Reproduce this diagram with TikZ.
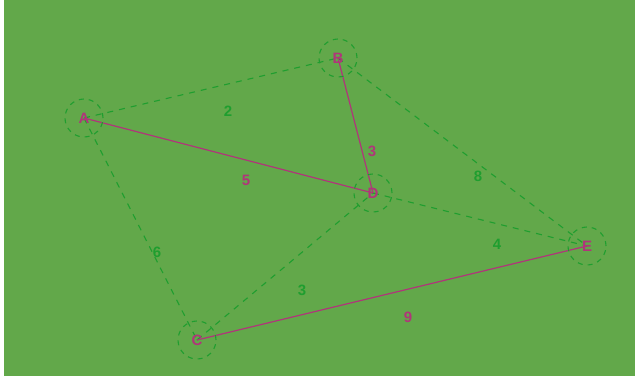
\documentclass[tikz,border=0pt]{standalone}
\usepackage{fontspec}
\setmainfont{Liberation Sans}
\definecolor{bg}{HTML}{62A84A}
\definecolor{dgreen}{HTML}{1F9E2F}
\definecolor{mag}{HTML}{B0357A}
\begin{document}
\begin{tikzpicture}[x=1pt,y=-1pt,
  vert/.style={circle,draw=dgreen,line width=1.1pt,dash pattern=on 5pt off 5pt,minimum size=38pt,inner sep=0pt,text=mag,font=\bfseries\fontsize{15}{15}\selectfont},
  dedge/.style={draw=dgreen,dash pattern=on 6pt off 6pt,line width=1.1pt},
  sedge/.style={draw=mag,line width=1.2pt},
  glab/.style={text=dgreen,font=\bfseries\fontsize{15}{15}\selectfont},
  mlab/.style={text=mag,font=\bfseries\fontsize{15}{15}\selectfont}]
\useasboundingbox (0,0) rectangle (635,378);
\fill[white] (0,0) rectangle (635,378);
\fill[bg] (4,0) rectangle (635,376);
\coordinate (a) at (84,118);
\coordinate (b) at (338,58);
\coordinate (c) at (197,340);
\coordinate (d) at (373,193);
\coordinate (e) at (587,246);
\draw[dedge] (a) -- (b);
\draw[dedge] (b) -- (e);
\draw[dedge] (d) -- (e);
\draw[dedge] (a) -- (c);
\draw[dedge] (c) -- (d);
\draw[sedge] (b) -- (d);
\draw[sedge] (a) -- (d);
\draw[sedge] (c) -- (e);
\node[vert] (A) at (a) {A};
\node[vert] (B) at (b) {B};
\node[vert] (C) at (c) {C};
\node[vert] (D) at (d) {D};
\node[vert] (E) at (e) {E};
\node[glab] (l2) at (228,111) {2};
\node[mlab] (l3a) at (372,151) {3};
\node[mlab] (l5) at (246,180) {5};
\node[glab] (l8) at (478,176) {8};
\node[glab] (l4) at (497,244) {4};
\node[glab] (l6) at (157,252) {6};
\node[glab] (l3b) at (302,290) {3};
\node[mlab] (l9) at (408,317) {9};
\end{tikzpicture}
\end{document}
